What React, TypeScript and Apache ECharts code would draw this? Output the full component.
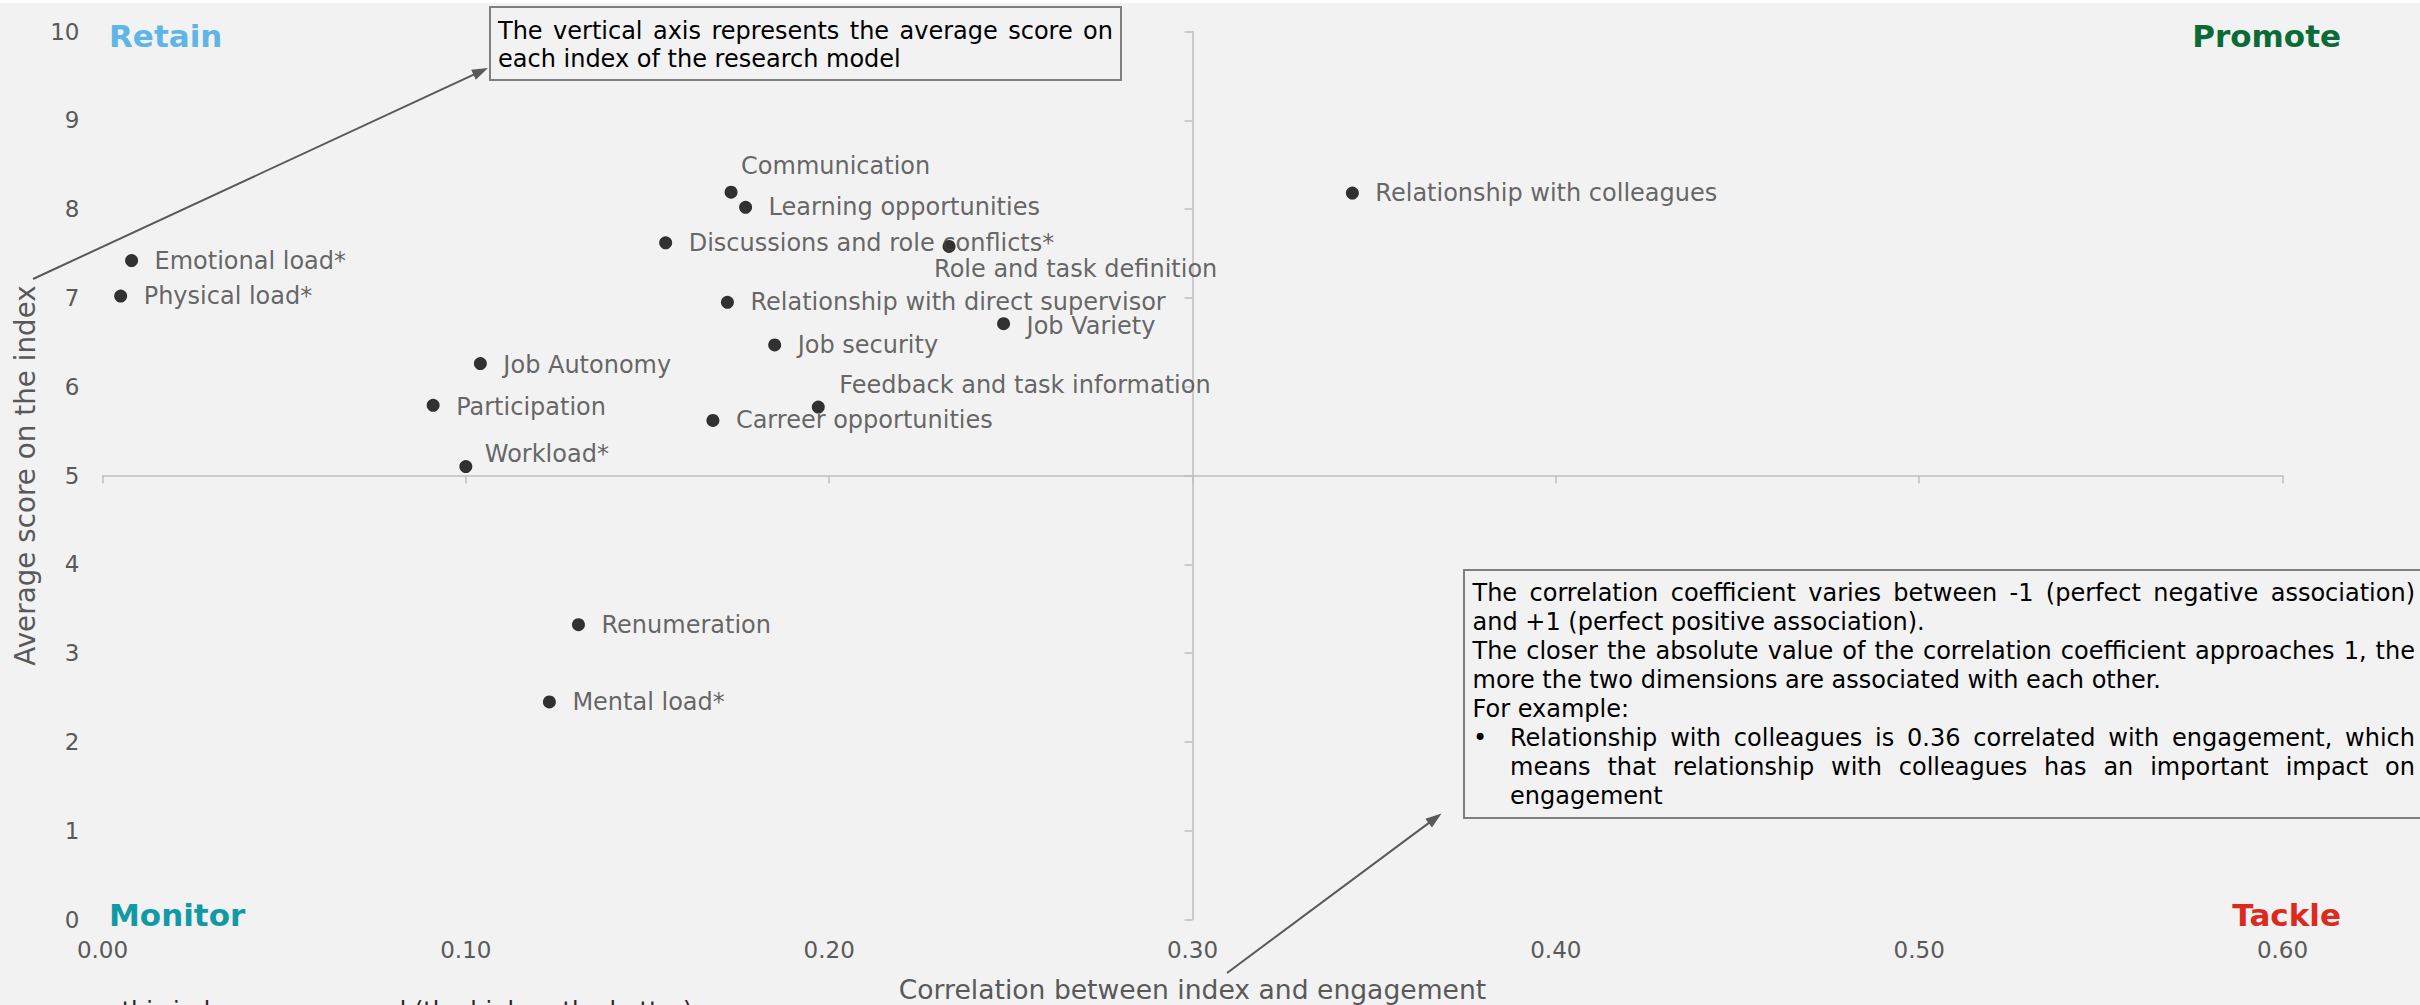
import React, { useEffect, useRef } from "react";
import * as echarts from "echarts";

// ---------------- data ----------------
const indexNames = [
  "Emotional load*",
  "Physical load*",
  "Communication",
  "Learning opportunities",
  "Discussions and role conflicts*",
  "Role and task definition",
  "Relationship with direct supervisor",
  "Job Variety",
  "Job security",
  "Job Autonomy",
  "Participation",
  "Feedback and task information",
  "Carreer opportunities",
  "Workload*",
  "Relationship with colleagues",
  "Renumeration",
  "Mental load*",
];
const correlations = [
  0.008, 0.005, 0.173, 0.177, 0.155, 0.233, 0.172, 0.248, 0.185, 0.104, 0.091,
  0.197, 0.168, 0.1, 0.344, 0.131, 0.123,
];
const averageScores = [
  7.42, 7.02, 8.19, 8.02, 7.62, 7.58, 6.95, 6.71, 6.47, 6.26, 5.79, 5.77, 5.62,
  5.1, 8.18, 3.32, 2.45,
];
const xTickLabels = ["0.00", "0.10", "0.20", "0.30", "0.40", "0.50", "0.60"];
const yTickLabels = ["0", "1", "2", "3", "4", "5", "6", "7", "8", "9", "10"];
const quadrantLabels = ["Retain", "Promote", "Monitor", "Tackle"];
const xCross = 0.3;
const yCross = 5;

const xAxisName = "Correlation between index and engagement";
const yAxisName = "Average score on the index";
const noteTop = [
  "The vertical axis represents the average score on",
  "each index of the research model",
];
const noteRight = [
  "The correlation coefficient varies between -1 (perfect negative association)",
  "and +1 (perfect positive association).",
  "The closer the absolute value of the correlation coefficient approaches 1, the",
  "more the two dimensions are associated with each other.",
  "For example:",
  "Relationship with colleagues is 0.36 correlated with engagement, which",
  "means that relationship with colleagues has an important impact on",
  "engagement",
];
const footnote = "score on this index was reversed (the higher, the better)";

// ---------------- layout / style ----------------
const W = 2420;
const H = 1005;
const FONT = "DejaVu Sans";
const GRID = { left: 102.5, right: 137.5, top: 31.5, bottom: 85.5 };
const X_MIN = 0, X_MAX = 0.6, X_INT = 0.1;
const Y_MIN = 0, Y_MAX = 10, Y_INT = 1;

const labelOffsets: Record<string, [number, number]> = {
  Communication: [-13, -26],
  "Role and task definition": [-38, 23],
  "Workload*": [-4, -13],
  "Feedback and task information": [-2, -22],
  "Job Variety": [0, 2],
  "Job Autonomy": [0, 1.5],
  "Participation": [0, 1.5],
};

const quadrantColors = ["#5fb5e5", "#0b6b37", "#119aa6", "#dc2a1e"];

let measureCtx: CanvasRenderingContext2D | null = null;
function measure(text: string, size: number) {
  if (!measureCtx) measureCtx = document.createElement("canvas").getContext("2d");
  measureCtx!.font = `${size}px "${FONT}"`;
  return measureCtx!.measureText(text).width;
}

function textEl(text: string, x: number, y: number, size: number, fill: string, extra: any = {}) {
  return {
    type: "text",
    x,
    y,
    z: 10,
    style: {
      text,
      fontSize: size,
      fontFamily: FONT,
      fill,
      align: extra.align || "left",
      textAlign: extra.align || "left",
      verticalAlign: extra.verticalAlign || "middle",
      textVerticalAlign: extra.verticalAlign || "middle",
      fontWeight: extra.fontWeight || "normal",
    },
  };
}

function justified(text: string, x0: number, x1: number, y: number, size: number, fill: string) {
  const words = text.split(" ");
  const widths = words.map((w) => measure(w, size));
  const total = widths.reduce((a, b) => a + b, 0);
  const space = measure(" ", size);
  const gap = words.length > 1 ? (x1 - x0 - total) / (words.length - 1) : 0;
  if (words.length < 2 || gap < space * 0.6) return [textEl(text, x0, y, size, fill)];
  const els: any[] = [];
  let x = x0;
  words.forEach((w, i) => {
    els.push(textEl(w, x, y, size, fill));
    x += widths[i] + gap;
  });
  return els;
}

function arrow(sx: number, sy: number, tx: number, ty: number, color: string) {
  const dx = tx - sx, dy = ty - sy;
  const len = Math.sqrt(dx * dx + dy * dy);
  const ux = dx / len, uy = dy / len;
  const L = 16, Wd = 11;
  const bx = tx - ux * L, by = ty - uy * L;
  const nx = -uy, ny = ux;
  return [
    { type: "line", z: 9, shape: { x1: sx, y1: sy, x2: bx + ux * 2, y2: by + uy * 2 }, style: { stroke: color, lineWidth: 2 } },
    {
      type: "polygon",
      z: 9,
      shape: { points: [[tx, ty], [bx + nx * Wd / 2, by + ny * Wd / 2], [bx - nx * Wd / 2, by - ny * Wd / 2]] },
      style: { fill: color },
    },
  ];
}

export default function App() {
  const ref = useRef<HTMLDivElement>(null);
  useEffect(() => {
    if (!ref.current) return;
    const chart = echarts.init(ref.current, undefined, { renderer: "svg" });
    const gridW = W - GRID.left - GRID.right;
    const gridH = H - GRID.top - GRID.bottom;
    const xCrossOffset = -gridW * (xCross - X_MIN) / (X_MAX - X_MIN);
    const yCrossOffset = -gridH * (yCross - Y_MIN) / (Y_MAX - Y_MIN);

    const data = indexNames.map((n, i) => ({ name: n, value: [correlations[i], averageScores[i]] }));

    const gray = "#595959";
    const graphics: any[] = [];
    graphics.push({ type: "rect", z: 1, shape: { x: 0, y: 0, width: W, height: 3 }, style: { fill: "#ffffff" } });

    // quadrant labels
    const qPos: [number, number, string][] = [
      [109, 36, "left"],
      [2341, 36, "right"],
      [109, 915, "left"],
      [2341, 915, "right"],
    ];
    quadrantLabels.forEach((q, i) => {
      graphics.push(textEl(q, qPos[i][0], qPos[i][1], 31, quadrantColors[i], { align: qPos[i][2], fontWeight: "bold" }));
    });

    // top note box
    graphics.push({ type: "rect", z: 8, shape: { x: 490, y: 7, width: 631, height: 73 }, style: { fill: "#f2f2f2", stroke: "#7f7f7f", lineWidth: 2 } });
    graphics.push(...justified(noteTop[0], 498, 1113, 31, 24, "#000000"));
    graphics.push(textEl(noteTop[1], 498, 58.5, 24, "#000000"));
    graphics.push(...arrow(33, 279, 488, 68, gray));

    // right note box
    graphics.push({ type: "rect", z: 8, shape: { x: 1464, y: 570, width: 1000, height: 248 }, style: { fill: "#f2f2f2", stroke: "#7f7f7f", lineWidth: 2 } });
    const lineYs = [593, 622, 651, 680, 709, 738, 767, 796];
    const justify = [true, false, true, false, false, true, true, false];
    noteRight.forEach((ln, i) => {
      const x0 = i >= 5 ? 1510 : 1472.5;
      if (justify[i]) graphics.push(...justified(ln, x0, 2415, lineYs[i], 24, "#000000"));
      else graphics.push(textEl(ln, x0, lineYs[i], 24, "#000000"));
    });
    graphics.push(textEl("•", 1473, lineYs[5], 24, "#000000"));
    graphics.push(...arrow(1227, 973, 1441.5, 813.5, gray));

    // footnote
    graphics.push(textEl(footnote, 12, 999, 24, "#262626", { verticalAlign: "top" }));

    chart.setOption({
      animation: false,
      backgroundColor: "#f2f2f2",
      grid: { ...GRID, containLabel: false, outerBoundsMode: "none" },
      xAxis: [
        {
          type: "value",
          min: X_MIN,
          max: X_MAX,
          interval: X_INT,
          position: "bottom",
          axisLine: { show: false, onZero: false },
          axisTick: { show: false },
          splitLine: { show: false },
          axisLabel: {
            margin: 19,
            color: gray,
            fontSize: 23,
            fontFamily: FONT,
            formatter: (v: number) => xTickLabels[Math.round((v - X_MIN) / X_INT)] ?? "",
          },
          name: xAxisName,
          nameLocation: "middle",
          nameGap: 56,
          nameTextStyle: { color: gray, fontSize: 26.6, fontFamily: FONT },
        },
        {
          type: "value",
          min: X_MIN,
          max: X_MAX,
          interval: X_INT,
          position: "bottom",
          offset: yCrossOffset,
          axisLine: { show: true, onZero: false, lineStyle: { color: "#bfbfbf", width: 1.5 } },
          axisTick: { show: true, inside: false, length: 8, lineStyle: { color: "#bfbfbf", width: 1.5 } },
          splitLine: { show: false },
          axisLabel: { show: false },
        },
      ],
      yAxis: [
        {
          type: "value",
          min: Y_MIN,
          max: Y_MAX,
          interval: Y_INT,
          position: "left",
          axisLine: { show: false, onZero: false },
          axisTick: { show: false },
          splitLine: { show: false },
          axisLabel: {
            margin: 23,
            color: gray,
            fontSize: 23,
            fontFamily: FONT,
            formatter: (v: number) => yTickLabels[Math.round((v - Y_MIN) / Y_INT)] ?? "",
          },
          name: yAxisName,
          nameLocation: "middle",
          nameGap: 60,
          nameTextStyle: { color: gray, fontSize: 27.8, fontFamily: FONT },
        },
        {
          type: "value",
          min: Y_MIN,
          max: Y_MAX,
          interval: Y_INT,
          position: "left",
          offset: xCrossOffset,
          axisLine: { show: true, onZero: false, lineStyle: { color: "#bfbfbf", width: 1.5 } },
          axisTick: { show: true, inside: false, length: 8, lineStyle: { color: "#bfbfbf", width: 1.5 } },
          splitLine: { show: false },
          axisLabel: { show: false },
        },
      ],
      series: [
        {
          type: "scatter",
          xAxisIndex: 0,
          yAxisIndex: 0,
          symbol: "circle",
          symbolSize: 13,
          itemStyle: { color: "#000000" },
          z: 5,
          label: {
            show: true,
            position: "right",
            distance: 16.5,
            formatter: "{b}",
            color: "#404040",
            fontSize: 24,
            fontFamily: FONT,
          },
          labelLayout: (params: any) => {
            const o = labelOffsets[indexNames[params.dataIndex]];
            return o ? { dx: o[0], dy: o[1], hideOverlap: false } : { hideOverlap: false };
          },
          data,
        },
      ],
      graphic: graphics,
    });
    return () => chart.dispose();
  }, []);
  return <div ref={ref} style={{ position: "fixed", left: 0, top: 0, width: W, height: H }} />;
}
